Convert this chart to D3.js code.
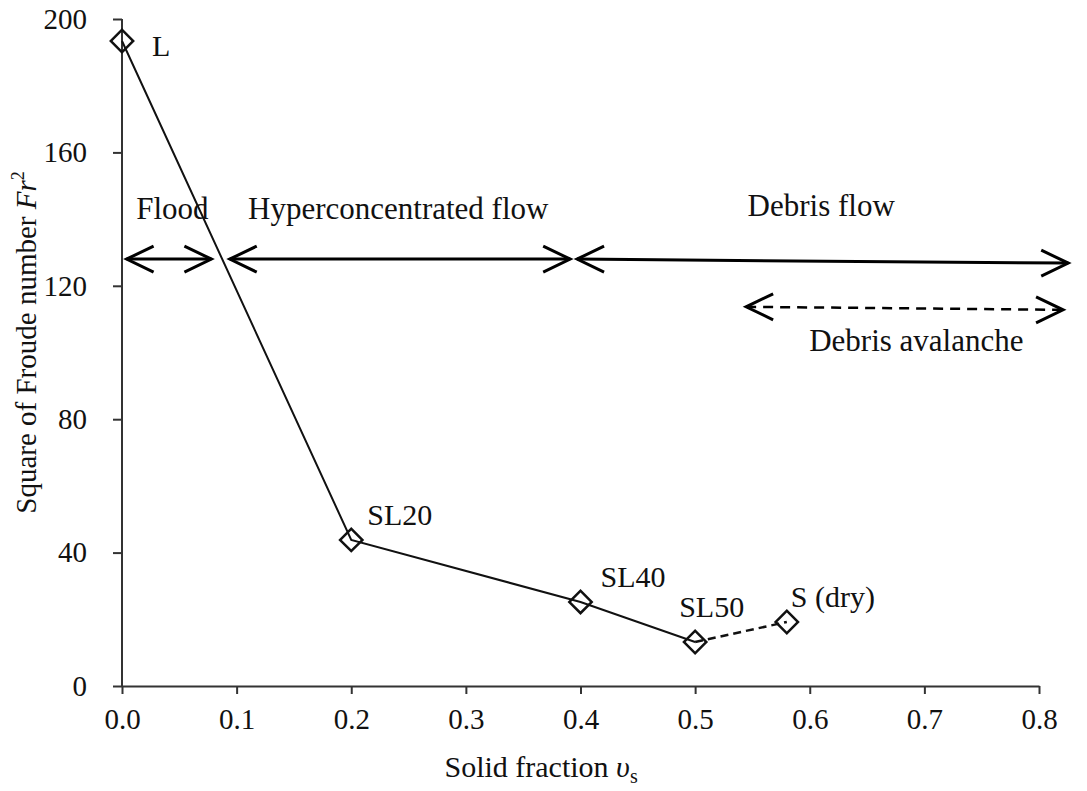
<!DOCTYPE html>
<html>
<head>
<meta charset="utf-8">
<script src="https://cdn.jsdelivr.net/npm/d3@7"></script>
<style>
  body { margin: 0; background: #fff; }
</style>
</head>
<body>
<div id="chart"></div>
<script>
// data
const pointNames = ['L', 'SL20', 'SL40', 'SL50', 'S (dry)'];
const solidFraction = [0.0, 0.2, 0.4, 0.5, 0.58];
const froudeSq = [193.4, 43.8, 25.2, 13.2, 19.2];
const xTicks = [0, 0.1, 0.2, 0.3, 0.4, 0.5, 0.6, 0.7, 0.8];
const yTicks = [0, 40, 80, 120, 160, 200];

// flow regime ranges
const regimeNames = ['Flood', 'Hyperconcentrated flow', 'Debris flow', 'Debris avalanche'];
const regimeStart = [0.004, 0.094, 0.397, 0.5445];
const regimeEnd = [0.078, 0.391, 0.8255, 0.821];
const regimeYStart = [128.0, 128.0, 128.0, 113.7];
const regimeYEnd = [128.0, 128.0, 126.8, 112.8];
const regimeDashed = [false, false, false, true];

const width = 1087, height = 791;
const margin = {left: 122, right: 48, top: 19, bottom: 105};
const FONT = 'Liberation Serif';

const svg = d3.select('#chart').append('svg')
  .attr('width', width).attr('height', height);

const x = d3.scaleLinear().domain([0, 0.8]).range([margin.left, width - margin.right]);
const y = d3.scaleLinear().domain([0, 200]).range([height - margin.bottom, margin.top]);

//////// AXES ////////
const xAxis = svg.append('g')
  .attr('transform', 'translate(0,' + y(0) + ')')
  .call(d3.axisBottom(x).tickValues(xTicks).tickSize(8).tickSizeOuter(0).tickPadding(10)
    .tickFormat(d3.format('.1f')));
const yAxis = svg.append('g')
  .attr('transform', 'translate(' + x(0) + ',0)')
  .call(d3.axisLeft(y).tickValues(yTicks).tickSize(9).tickSizeOuter(0).tickPadding(26));

[xAxis, yAxis].forEach(function(a){
  a.attr('font-family', FONT).attr('font-size', 29);
  a.select('.domain').attr('stroke', '#333').attr('stroke-width', 2);
  a.selectAll('.tick line').attr('stroke', '#333').attr('stroke-width', 2);
  a.selectAll('.tick text').attr('fill', '#111');
});
xAxis.selectAll('.tick text').attr('dy', '0.85em');
yAxis.select('.domain').attr('d', 'M0,' + y(0) + 'V' + y(200));

// axis titles
svg.append('text')
  .attr('x', x(0.3656)).attr('y', 777)
  .attr('text-anchor', 'middle')
  .attr('font-family', FONT).attr('font-size', 30).attr('fill', '#111')
  .html('Solid fraction <tspan font-style="italic">υ</tspan><tspan font-size="20" dy="6">s</tspan>');

svg.append('text')
  .attr('transform', 'translate(36,' + y(103) + ') rotate(-90)')
  .attr('text-anchor', 'middle')
  .attr('font-family', FONT).attr('font-size', 29).attr('fill', '#111')
  .html('Square of Froude number <tspan font-style="italic">Fr</tspan><tspan font-size="18" dy="-12">2</tspan>');

//////// DATA LINE ////////
const pts = solidFraction.map(function(d, i){ return {x: d, y: froudeSq[i], name: pointNames[i]}; });
const line = d3.line().x(d => x(d.x)).y(d => y(d.y));

svg.append('path')
  .attr('d', line(pts.slice(0, 4)))
  .attr('fill', 'none').attr('stroke', '#111').attr('stroke-width', 2);
svg.append('path')
  .attr('d', line(pts.slice(3)))
  .attr('fill', 'none').attr('stroke', '#111').attr('stroke-width', 2.5)
  .attr('stroke-dasharray', '8,5');

// diamond markers
svg.append('g').selectAll('path').data(pts).enter().append('path')
  .attr('transform', d => 'translate(' + x(d.x) + ',' + y(d.y) + ') rotate(45)')
  .attr('d', d3.symbol().type(d3.symbolSquare).size(250))
  .attr('fill', 'none').attr('stroke', '#111').attr('stroke-width', 2.5);

// point labels (offsets in px from marker)
const labelDx = [30, 16, 20, -16, 4];
const labelDy = [15, -15, -15, -25, -15];
svg.append('g').selectAll('text').data(pts).enter().append('text')
  .attr('x', (d, i) => x(d.x) + labelDx[i])
  .attr('y', (d, i) => y(d.y) + labelDy[i])
  .attr('font-family', FONT).attr('font-size', 30).attr('fill', '#111')
  .text(d => d.name);

//////// FLOW REGIME ARROWS ////////
const regimes = regimeNames.map(function(n, i){
  return {name: n, x0: regimeStart[i], x1: regimeEnd[i], y0: regimeYStart[i], y1: regimeYEnd[i], dashed: regimeDashed[i]};
});
const headLen = 27, headHalf = 13;
const rg = svg.append('g').selectAll('g').data(regimes).enter().append('g');
rg.append('path')
  .attr('d', d => 'M' + x(d.x0) + ',' + y(d.y0) + 'L' + x(d.x1) + ',' + y(d.y1))
  .attr('fill', 'none').attr('stroke', '#000')
  .attr('stroke-width', d => d.dashed ? 2.5 : 3)
  .attr('stroke-dasharray', d => d.dashed ? '10,7' : null);
rg.append('path')
  .attr('d', function(d){
    const ax = x(d.x0), ay = y(d.y0), bx = x(d.x1), by = y(d.y1);
    return 'M' + (ax + headLen) + ',' + (ay - headHalf) + 'L' + ax + ',' + ay + 'L' + (ax + headLen) + ',' + (ay + headHalf) +
      'M' + (bx - headLen) + ',' + (by - headHalf) + 'L' + bx + ',' + by + 'L' + (bx - headLen) + ',' + (by + headHalf);
  })
  .attr('fill', 'none').attr('stroke', '#000').attr('stroke-width', 3);

// regime labels
const regLabelX = [0.044, 0.241, 0.61, 0.693];
const regLabelY = [140, 140, 141, 100.5];
rg.append('text')
  .attr('x', (d, i) => x(regLabelX[i]))
  .attr('y', (d, i) => y(regLabelY[i]))
  .attr('text-anchor', 'middle')
  .attr('font-family', FONT).attr('font-size', 31).attr('fill', '#111')
  .text(d => d.name);
</script>
</body>
</html>
